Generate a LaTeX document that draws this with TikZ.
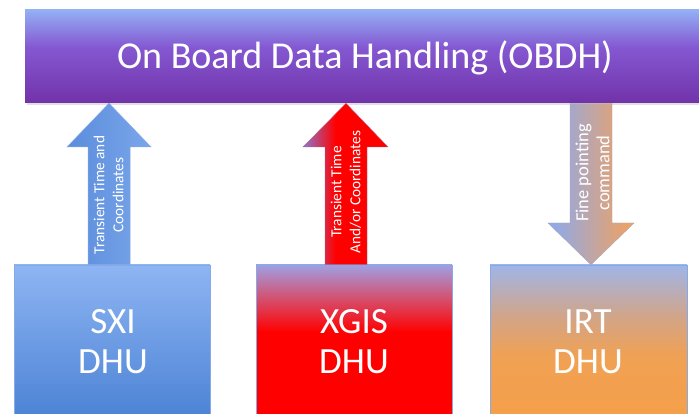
\documentclass[tikz,border=0pt]{standalone}
\usepackage{fontspec}
\setmainfont{Carlito}
\usetikzlibrary{calc}
\definecolor{topblue}{HTML}{93B0F4}
\definecolor{violet1}{HTML}{8458D2}
\definecolor{purple1}{HTML}{7232A8}
\definecolor{sxitop}{HTML}{8EB5F3}
\definecolor{sxibot}{HTML}{4C83D5}
\definecolor{xgtop}{HTML}{A09FE2}
\definecolor{xgmid}{HTML}{D4506F}
\definecolor{irttop}{HTML}{9FB5E8}
\definecolor{irtmid}{HTML}{D2A588}
\definecolor{irtbot}{HTML}{F5A04A}
\definecolor{arrblueL}{HTML}{5B8DDC}
\definecolor{arrblueR}{HTML}{7AA6EA}
\definecolor{arrpurp}{HTML}{8A78D0}
\definecolor{irtarrL}{HTML}{8AAAF0}
\definecolor{irtarrR}{HTML}{F4A15C}
\definecolor{edgeblue}{HTML}{86A9E8}
\pgfdeclareverticalshading{obdhshade}{100bp}{color(0bp)=(purple1); color(25bp)=(purple1); color(55bp)=(violet1); color(75bp)=(topblue); color(100bp)=(topblue)}
\pgfdeclareverticalshading{sxishade}{100bp}{color(0bp)=(sxibot); color(25bp)=(sxibot); color(75bp)=(sxitop); color(100bp)=(sxitop)}
\pgfdeclareverticalshading{xgisshade}{100bp}{color(0bp)=(red); color(25bp)=(red); color(53bp)=(red); color(64bp)=(xgmid); color(75bp)=(xgtop); color(100bp)=(xgtop)}
\pgfdeclareverticalshading{irtshade}{100bp}{color(0bp)=(irtbot); color(25bp)=(irtbot); color(45bp)=(irtbot!85!irtmid); color(58bp)=(irtmid); color(75bp)=(irttop); color(100bp)=(irttop)}
\pgfdeclarehorizontalshading{xgarrshade}{100bp}{color(0bp)=(arrpurp); color(25bp)=(arrpurp); color(44bp)=(red); color(75bp)=(red); color(100bp)=(red)}
\tikzset{
  box/.style={rectangle, inner sep=0pt, draw=edgeblue, line width=0.6pt},
  bigtext/.style={text=white, align=center, inner sep=0pt, font=\fontsize{37}{40}\selectfont},
  arrtext/.style={rotate=90, text=white, align=center, inner sep=0pt, font=\fontsize{15.3}{19}\selectfont},
}
\begin{document}
\begin{tikzpicture}[x=1pt,y=1pt]
\useasboundingbox (0,0) rectangle (699,414);
\fill[white] (0,0) rectangle (699,414);
% top box
\fill[black!12] (27,309) rectangle (701,403);
\node[box, draw=none, shading=obdhshade, minimum width=675pt, minimum height=93pt] (obdh) at (362.5,357.5) {};
\node[text=white, font=\fontsize{38}{42}\selectfont, inner sep=0pt] (title) at (365,356) {On Board Data Handling (OBDH)};
% bottom boxes
\node[box, shading=sxishade, minimum width=196pt, minimum height=152pt] (sxi) at (112,73) {};
\node[box, shading=xgisshade, minimum width=196pt, minimum height=152pt] (xgis) at (354,73) {};
\node[box, shading=irtshade, minimum width=197pt, minimum height=152pt] (irt) at (588.5,73) {};
\node[bigtext] (sxit) at (113,72) {SXI\\DHU};
\node[bigtext] (xgist) at (354,72) {XGIS\\DHU};
\node[bigtext] (irtt) at (588,72) {IRT\\DHU};
% SXI arrow (up)
\shade[left color=arrblueL, right color=arrblueR, draw=edgeblue, line width=0.5pt]
  (88,0 |- sxi.north) -- (88,267) -- (67,267) -- (109,0 |- obdh.south) -- (151,267) -- (130,267) -- (130,0 |- sxi.north) -- cycle;
\node[arrtext] (sxil) at (108.5,219) {Transient Time and\\Coordinates};
% XGIS arrow (up)
\shade[shading=xgarrshade, draw=edgeblue!60!red, line width=0.4pt]
  (325,0 |- xgis.north) -- (325,267) -- (303,267) -- (346,0 |- obdh.south) -- (388,267) -- (367,267) -- (367,0 |- xgis.north) -- cycle;
\node[arrtext] (xgisl) at (346,222) {Transient Time\\And/or Coordinates};
% IRT arrow (down)
\shade[left color=irtarrL, right color=irtarrR, draw=edgeblue!70!irtarrR, line width=0.4pt]
  (570,0 |- obdh.south) -- (570,191) -- (548,191) -- (591,0 |- irt.north) -- (634,191) -- (612,191) -- (612,0 |- obdh.south) -- cycle;
\node[arrtext, font=\fontsize{18.5}{21}\selectfont] (irtl) at (592.5,241) {Fine pointing\\command};
\end{tikzpicture}
\end{document}
